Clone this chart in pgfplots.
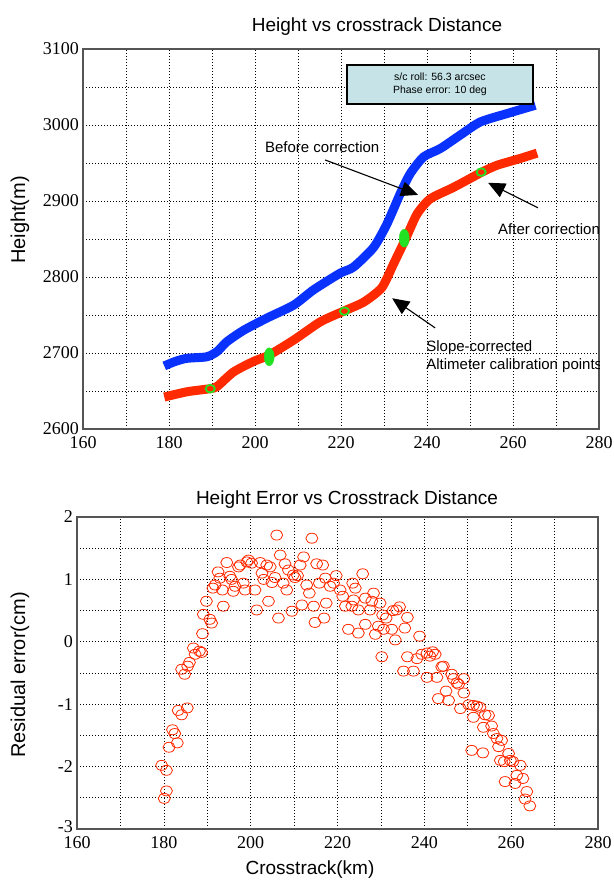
\documentclass[border=0pt]{standalone}
\usepackage{fontspec}
\setmainfont{Liberation Sans}
\newfontfamily\numfont{Liberation Serif}
\usepackage{pgfplots}
\pgfplotsset{compat=1.18}
\usetikzlibrary{arrows.meta}
\definecolor{cvblue}{HTML}{0A32FF}
\definecolor{cvred}{HTML}{FF2A00}
\definecolor{cvgreen}{HTML}{22E022}
\definecolor{boxfill}{HTML}{C6E4E8}
\definecolor{framegray}{HTML}{555555}

\pgfplotsset{
  chartbase/.style={
    scale only axis, anchor=south west,
    axis line style={framegray, line width=1.2pt},
    grid=both,
    major grid style={black, line width=0.6pt, dash pattern=on 0.8pt off 2.2pt},
    minor grid style={black, line width=0.6pt, dash pattern=on 0.8pt off 2.2pt},
    major tick length=0pt, minor tick length=0pt,
    ticklabel style={font=\numfont\fontsize{18}{18}\selectfont, inner sep=1pt},
    xticklabel style={yshift=-6pt},
    yticklabel style={xshift=-3pt},
    xmin=160, xmax=280,
    xtick={160,180,...,280}, minor xtick={170,190,...,270},
    xticklabels={160,180,200,220,240,260,280},
  }
}

\begin{document}
\begin{tikzpicture}
\useasboundingbox (0,0) rectangle (613pt,882pt);

% upper panel
\begin{axis}[chartbase, at={(83pt,453pt)}, width=516pt, height=380pt,
  ymin=2600, ymax=3100,
  ytick={2600,2700,...,3100}, minor ytick={2650,2750,...,3050},
  yticklabels={2600,2700,2800,2900,3000,3100}]
\addplot[cvblue, line width=9pt, smooth, tension=0.4] coordinates {
 (178.9,2683) (181.5,2689) (184.2,2693) (188.8,2695) (191.2,2702) (193.5,2715)
 (197.4,2730) (202.8,2746) (209.0,2763) (213.6,2783) (219.8,2805) (222.9,2813)
 (227.6,2839) (230.7,2870) (233.8,2910) (236.1,2936) (239.2,2958) (243.1,2969)
 (247.8,2987) (252.4,3004) (258.6,3015) (265.2,3026)};
\addplot[cvred, line width=9pt, smooth, tension=0.4] coordinates {
 (178.9,2642) (184.2,2649) (189.5,2653) (191.2,2656) (195.0,2675) (199.7,2689)
 (203.2,2697) (209.0,2717) (215.2,2741) (220.6,2755) (225.3,2767) (229.5,2786)
 (232.2,2817) (235.0,2850) (237.7,2883) (240.8,2903) (246.2,2918) (252.8,2938)
 (256.3,2947) (261.7,2956) (265.6,2963)};
% calibration points
\addplot[only marks, mark=o, cvgreen, mark size=3.8pt,
  mark options={xscale=1.2, line width=1.8pt}] coordinates {
 (189.6,2653) (220.8,2755) (252.6,2938)};
\addplot[only marks, mark=*, cvgreen, mark size=5pt,
  mark options={yscale=1.8, draw=cvgreen}] coordinates {
 (203.3,2695) (234.7,2851)};

\node[draw=black, line width=1.6pt, fill=boxfill, minimum width=186pt,
  minimum height=39pt, align=center, font=\fontsize{10.5}{13}\selectfont]
  at (axis cs:243,3053.5) {s/c roll: 56.3 arcsec\\Phase error: 10 deg};

\node[anchor=west, font=\fontsize{15}{15}\selectfont, inner sep=0pt]
  at (axis cs:202.3,2971) {Before correction};
\draw[line width=1.1pt, -{Triangle[length=17pt,width=15pt]}]
  (axis cs:216.3,2954) -- (axis cs:237.9,2908);
\node[anchor=west, font=\fontsize{15}{15}\selectfont, inner sep=0pt]
  at (axis cs:256.5,2863) {After correction};
\draw[line width=1.1pt, -{Triangle[length=17pt,width=15pt]}]
  (axis cs:265.8,2891) -- (axis cs:254.2,2924);
\node[anchor=north west, align=left, font=\fontsize{15}{18}\selectfont, inner sep=0pt]
  at (axis cs:239.8,2716) {Slope-corrected\\Altimeter calibration points};
\draw[line width=1.1pt, -{Triangle[length=17pt,width=15pt]}]
  (axis cs:241.9,2733) -- (axis cs:231.9,2772);
\end{axis}

% lower panel
\begin{axis}[chartbase, at={(77pt,53pt)}, width=521pt, height=312pt,
  ymin=-3, ymax=2,
  ytick={-3,-2,...,2}, minor ytick={-2.5,-1.5,...,1.5},
  yticklabels={\raisebox{5pt}{-3},-2,-1,0,1,2}]
\addplot[only marks, mark=o, cvred, mark size=5pt,
  mark options={xscale=1.2, line width=0.8pt}] coordinates {
 (180.1,-2.51) (180.6,-2.39) (179.5,-1.98) (180.6,-2.06) (181.2,-1.69) (183.1,-1.62)
 (182.0,-1.41) (182.5,-1.47) (183.3,-1.10) (184.1,-1.17) (185.4,-1.06) (184.1,-0.44)
 (184.8,-0.52) (185.9,-0.33) (185.5,-0.39) (186.8,-0.10) (187.2,-0.20) (188.2,-0.15)
 (188.7,-0.17) (188.9,0.13) (189.1,0.44) (190.6,0.36) (191.0,0.30) (189.8,0.65)
 (191.3,0.86) (191.8,0.91) (192.5,1.12) (192.9,1.02) (193.7,0.57) (193.5,0.83)
 (194.5,1.27) (195.2,1.05) (195.6,1.00) (196.0,0.81) (196.4,0.89) (197.2,1.20)
 (197.6,1.23) (198.3,0.94) (198.7,0.83) (199.1,1.28) (199.5,1.31) (200.2,1.26)
 (201.0,0.83) (201.4,0.51) (202.2,1.27) (202.6,1.10) (203.0,1.00) (203.7,1.23)
 (204.1,0.65) (204.5,1.20) (204.9,0.95) (205.6,1.03) (206.0,1.71) (206.4,0.38)
 (206.8,1.39) (207.5,0.94) (207.9,1.25) (208.3,0.83) (208.7,1.15) (209.5,0.49)
 (209.8,1.07) (210.2,1.03) (210.8,1.06) (211.4,1.23) (211.8,0.59) (212.2,1.36)
 (212.9,0.91) (213.5,0.78) (214.1,1.66) (214.5,0.57) (214.8,0.31) (215.2,1.25)
 (215.8,0.94)
 (216.6,1.23) (217.2,1.02) (219.7,1.06) (218.3,0.89) (219.1,0.94) (217.4,0.62)
 (216.9,0.38) (220.6,0.83) (221.2,0.73) (221.8,0.57) (223.3,0.57) (223.7,0.67)
 (223.5,0.94) (224.1,0.86) (225.8,1.09) (224.8,0.51) (226.4,0.70) (227.5,0.51)
 (227.9,0.65) (228.3,0.78) (229.8,0.62) (222.5,0.20) (224.8,0.14) (226.4,0.28)
 (228.7,0.12) (229.4,0.25) (230.4,0.43) (231.2,0.38) (232.8,0.50) (233.6,0.51)
 (234.3,0.56) (236.1,0.39) (235.5,0.22) (230.6,0.20) (232.5,0.20) (233.3,0.03)
 (230.2,-0.24) (238.9,0.09) (236.1,-0.24) (235.2,-0.47) (237.5,-0.47) (238.3,-0.27)
 (239.4,-0.20) (240.6,-0.18) (241.9,-0.16) (242.5,-0.20) (241.3,-0.23) (240.6,-0.57)
 (242.9,-0.57) (244.0,-0.40) (244.4,-0.39) (246.3,-0.52) (246.7,-0.59) (247.5,-0.66)
 (247.9,-0.68) (249.1,-0.59) (245.0,-0.79) (243.2,-0.91) (245.6,-0.94) (248.3,-1.07)
 (249.1,-0.82) (250.2,-1.01) (251.3,-1.02) (252.1,-1.03) (252.8,-1.05) (251.3,-1.21)
 (254.0,-1.17) (254.8,-1.18) (253.6,-1.37) (255.5,-1.35) (255.9,-1.47) (256.7,-1.55)
 (257.8,-1.58) (257.1,-1.68) (250.9,-1.74) (253.5,-1.78) (257.5,-1.90) (258.4,-1.92)
 (259.4,-1.79) (259.8,-1.90) (260.4,-1.92) (262.1,-1.98) (261.3,-2.14) (262.7,-2.19)
 (258.6,-2.24) (260.9,-2.27) (263.6,-2.40) (263.2,-2.52) (264.3,-2.63)};
\end{axis}

% titles and axis labels
\node[anchor=base, font=\fontsize{19}{19}\selectfont] at (377pt,850pt) {Height vs crosstrack Distance};
\node[anchor=base, font=\fontsize{19}{19}\selectfont] at (347pt,377pt) {Height Error vs Crosstrack Distance};
\node[rotate=90, font=\fontsize{20}{20}\selectfont] at (20pt,662pt) {Height(m)};
\node[rotate=90, font=\fontsize{20}{20}\selectfont] at (20pt,207pt) {Residual error(cm)};
\node[anchor=base, font=\fontsize{19}{19}\selectfont] at (310pt,8pt) {Crosstrack(km)};
\end{tikzpicture}
\end{document}
